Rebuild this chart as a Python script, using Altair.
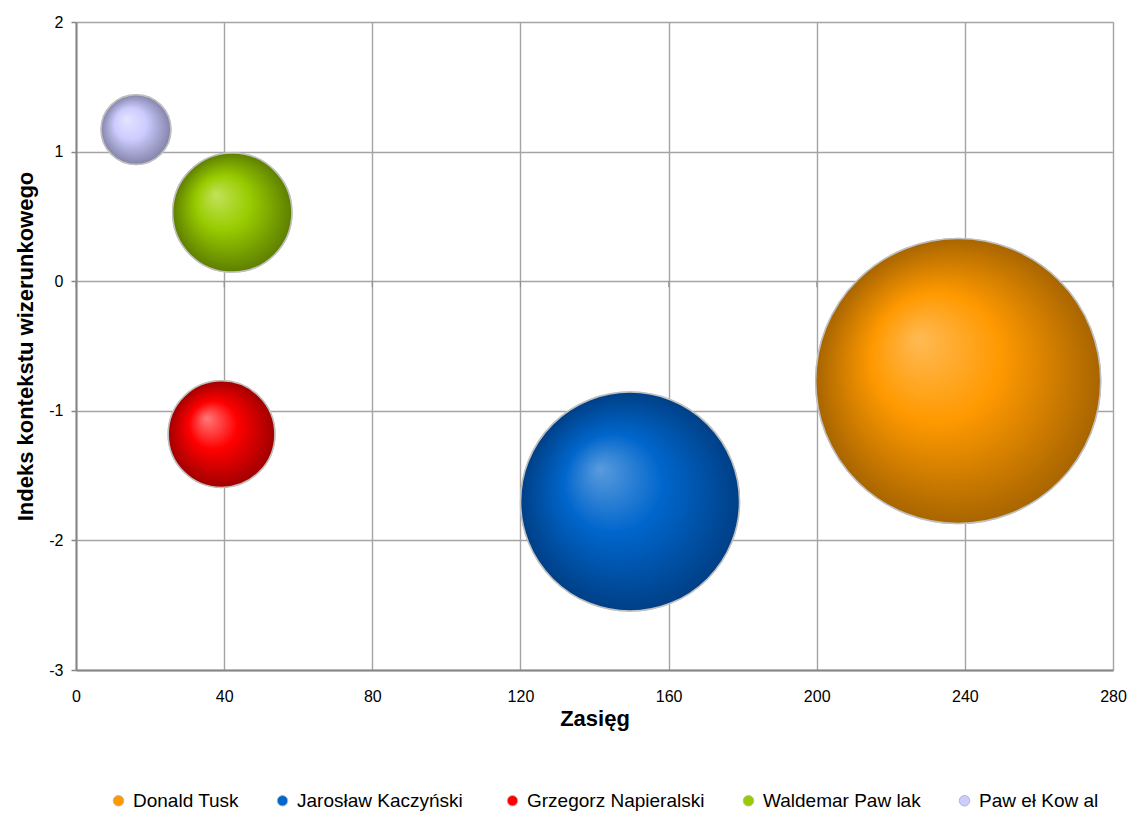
import altair as alt
import pandas as pd

# ---- data ----
names = ["Donald Tusk", "Jarosław  Kaczyński", "Grzegorz Napieralski", "Waldemar Paw lak", "Paw eł Kow al"]
zasieg = [238.2, 149.6, 39.3, 42.2, 16.2]
indeks = [-0.77, -1.70, -1.18, 0.53, 1.17]
bubble = [100, 59, 14, 17.5, 6]

base_colors = ["#FF9900", "#0066CC", "#FF0000", "#99CC00", "#CCCCFF"]
light_colors = ["#FFBA55", "#5A9BDD", "#FF7A7A", "#C2E25A", "#E4E4FF"]
dark_colors = ["#A86500", "#003F86", "#A00000", "#5E7F00", "#8484AA"]

x_ticks = [0, 40, 80, 120, 160, 200, 240, 280]
y_ticks = [-3, -2, -1, 0, 1, 2]

df = pd.DataFrame({"name": names, "zasieg": zasieg, "indeks": indeks, "bubble": bubble})
tick_df = pd.DataFrame({"t": x_ticks})

FONT = "Liberation Sans"
GRID = "#A4A4A4"
AXIS = "#868686"

common_axis = dict(labelFont=FONT, titleFont=FONT, labelFontSize=16, titleFontSize=22,
                   titleFontWeight="bold", labelColor="#000000", titleColor="#000000",
                   gridColor=GRID, gridWidth=1.4, domainColor=AXIS, domainWidth=2,
                   labelFlush=False, labelExpr="'' + datum.value")

x_enc = alt.X("zasieg:Q", scale=alt.Scale(domain=[0, 280], nice=False, zero=False),
              axis=alt.Axis(values=x_ticks, title="Zasięg", grid=True, ticks=False, tickSize=0,
                            labelPadding=18, titlePadding=4, **common_axis))
y_enc = alt.Y("indeks:Q", scale=alt.Scale(domain=[-3, 2], nice=False, zero=False),
              axis=alt.Axis(values=y_ticks, title="Indeks kontekstu wizerunkowego", grid=True,
                            ticks=True, tickSize=5, tickColor=AXIS, tickWidth=1.5, labelPadding=8,
                            titlePadding=11, **common_axis))
size_enc = alt.Size("bubble:Q", scale=alt.Scale(domain=[0, 100], range=[0, 81225]), legend=None)

base = alt.Chart(df).mark_circle(opacity=1, stroke="#C0C0C0", strokeWidth=1.5).encode(
    x=x_enc, y=y_enc, size=size_enc,
    color=alt.Color("name:N", sort=names,
                    scale=alt.Scale(domain=names, range=base_colors),
                    legend=alt.Legend(title=None, orient="none", legendX=33, legendY=769,
                                      direction="horizontal", columns=5, symbolType="circle",
                                      symbolSize=110, symbolStrokeColor="#B8B8B8",
                                      symbolStrokeWidth=1, labelFontSize=19, labelFont=FONT,
                                      labelColor="#000000", columnPadding=34, labelOffset=5,
                                      padding=0, labelLimit=400))
)

layers = [base]
for nm, lc, bc, dc in zip(names, light_colors, base_colors, dark_colors):
    grad = alt.RadialGradient(
        gradient="radial",
        stops=[alt.GradientStop(color=lc, offset=0),
               alt.GradientStop(color=bc, offset=0.45),
               alt.GradientStop(color=dc, offset=1)],
        x1=0.36, y1=0.35, r1=0, x2=0.5, y2=0.5, r2=0.5,
    )
    layers.append(
        alt.Chart(df).transform_filter(alt.datum.name == nm)
        .mark_circle(fill=grad, opacity=1, stroke="#C0C0C0", strokeWidth=1.5)
        .encode(x=x_enc, y=y_enc, size=size_enc)
    )

ticks0 = alt.Chart(tick_df).mark_tick(orient="vertical", size=6, thickness=1.2, color=AXIS, yOffset=3).encode(
    x=alt.X("t:Q"), y=alt.datum(0)
)
layers.insert(0, ticks0)

chart = alt.layer(*layers).properties(
    width=1037, height=648,
    autosize=alt.AutoSizeParams(type="none"),
    padding={"left": 68, "top": 14, "right": 14, "bottom": 144},
).configure(font=FONT).configure_view(strokeWidth=0)

chart.save("out.html", embed_options={"renderer": "svg", "actions": False})
